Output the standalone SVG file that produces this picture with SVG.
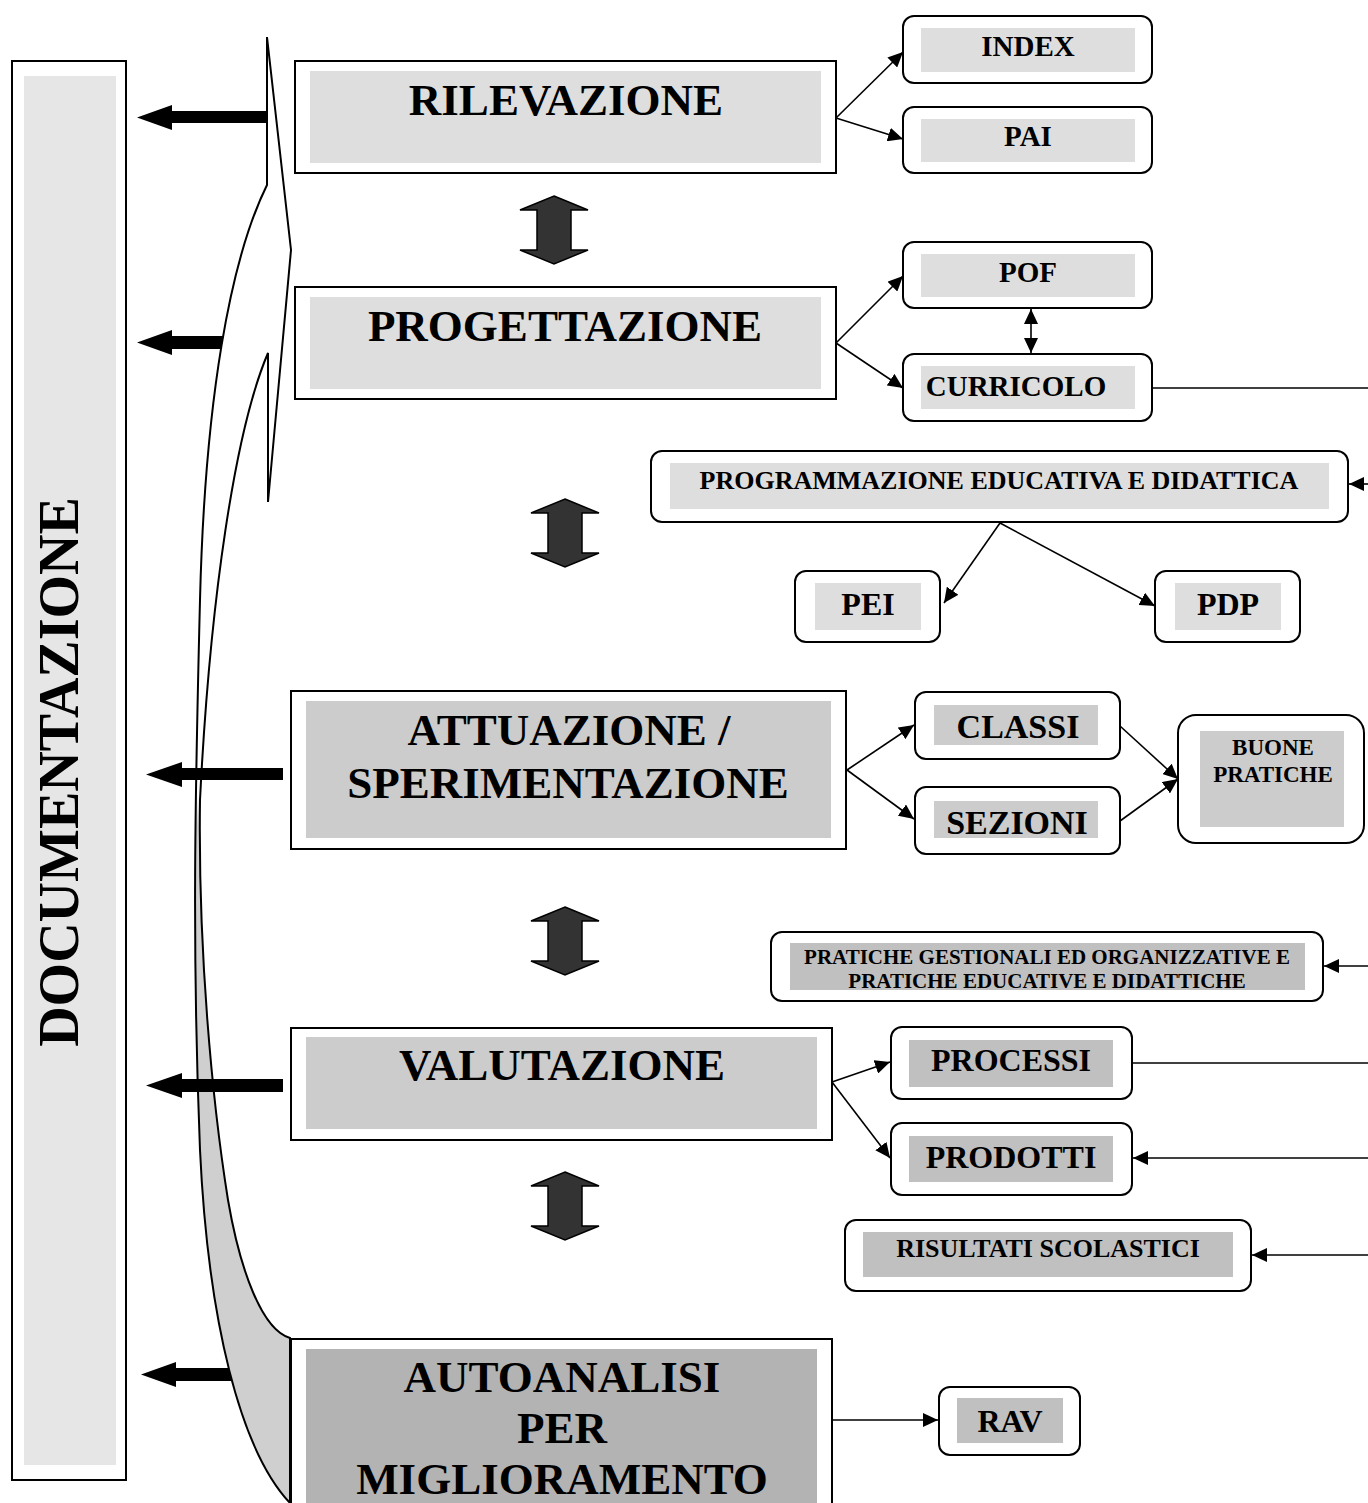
<svg xmlns="http://www.w3.org/2000/svg" width="1368" height="1503" viewBox="0 0 1368 1503">
<style>
text{font-family:"Liberation Serif","Times New Roman",serif;font-weight:bold;fill:#000;text-anchor:middle}
.frame{fill:#fff;stroke:#000;stroke-width:2}
.rb{fill:#fff;stroke:#000;stroke-width:2}
.g1{fill:#dedede}.g2{fill:#cccccc}.g3{fill:#b3b3b3}.g4{fill:#c0c0c0}
.big{font-size:45px}.mid{font-size:32px}.sm{font-size:29px}
.conn line,.conn path{stroke:#000;stroke-width:1.6;fill:none}
.bar{fill:#000}
.dbl{fill:#333;stroke:#000;stroke-width:1.5}
</style>
<defs>
<marker id="ah" markerUnits="userSpaceOnUse" markerWidth="15" markerHeight="14" refX="15" refY="7" orient="auto-start-reverse" viewBox="0 0 15 14">
<path d="M0,0 L15,7 L0,14 z" fill="#000"/>
</marker>
<linearGradient id="bandfill" gradientUnits="userSpaceOnUse" x1="0" y1="795" x2="0" y2="825">
<stop offset="0" stop-color="#fff"/>
<stop offset="1" stop-color="#cfcfcf"/>
</linearGradient>
</defs>

<g id="documentazione">
<rect x="12" y="61" width="114" height="1419" class="frame"/>
<rect x="24" y="76" width="92" height="1389" fill="#e6e6e6"/>
<text transform="translate(78,772) rotate(-90)" font-size="56">DOCUMENTAZIONE</text>
</g>

<g id="left-arrows-back">
<polygon class="bar" points="267,111 172,111 172,105 137,117.5 172,130 172,123 267,123"/>
<polygon class="bar" points="240,336 172,336 172,330 137,342.5 172,355 172,349 240,349"/>
<polygon class="bar" points="240,1368 176,1368 176,1362 141,1374.5 176,1387 176,1381 240,1381"/>
</g>

<g id="brace">
<path d="M267,185 L267,37 L291,250 L268,502 L268,353 C235,430 210,600 200,800 C198,950 212,1100 228,1200 C240,1270 262,1330 290,1338 L290,1503 C240,1450 208,1320 200,1150 C192,950 195,800 200,600 C205,400 230,260 267,185 Z" fill="url(#bandfill)" stroke="#000" stroke-width="2" stroke-linejoin="miter"/>
</g>

<g id="left-arrows-front">
<polygon class="bar" points="283,768 182,768 182,762 146,774.5 182,787 182,780 283,780"/>
<polygon class="bar" points="283,1079 182,1079 182,1073 146,1085.5 182,1098 182,1092 283,1092"/>
</g>

<g id="double-arrows">
<polygon class="dbl" points="554,196 588,210 571,210 571,250 588,250 554,264 520,250 537,250 537,210 520,210"/>
<polygon class="dbl" points="565,499 599,513 582,513 582,553 599,553 565,567 531,553 548,553 548,513 531,513"/>
<polygon class="dbl" points="565,907 599,921 582,921 582,961 599,961 565,975 531,961 548,961 548,921 531,921"/>
<polygon class="dbl" points="565,1172 599,1186 582,1186 582,1226 599,1226 565,1240 531,1226 548,1226 548,1186 531,1186"/>
</g>

<g id="rilevazione">
<rect x="295" y="61" width="541" height="112" class="frame"/>
<rect x="310" y="71" width="511" height="92" class="g1"/>
<text x="566" y="115" class="big">RILEVAZIONE</text>
</g>
<g id="progettazione">
<rect x="295" y="287" width="541" height="112" class="frame"/>
<rect x="310" y="297" width="511" height="92" class="g1"/>
<text x="565" y="341" class="big">PROGETTAZIONE</text>
</g>
<g id="attuazione">
<rect x="291" y="691" width="555" height="158" class="frame"/>
<rect x="306" y="701" width="525" height="137" class="g2"/>
<text x="569" y="745" class="big">ATTUAZIONE /</text>
<text x="568" y="798" class="big">SPERIMENTAZIONE</text>
</g>
<g id="valutazione">
<rect x="291" y="1028" width="541" height="112" class="frame"/>
<rect x="306" y="1037" width="511" height="92" class="g2"/>
<text x="562" y="1080" class="big">VALUTAZIONE</text>
</g>
<g id="autoanalisi">
<rect x="291" y="1339" width="541" height="180" class="frame"/>
<rect x="306" y="1349" width="511" height="170" class="g3"/>
<text x="562" y="1392" class="big">AUTOANALISI</text>
<text x="562" y="1443" class="big">PER</text>
<text x="562" y="1494" class="big">MIGLIORAMENTO</text>
</g>

<g id="index">
<rect x="903" y="16" width="249" height="67" rx="11" class="rb"/>
<rect x="921" y="28" width="214" height="44" class="g1"/>
<text x="1028" y="56" class="sm">INDEX</text>
</g>
<g id="pai">
<rect x="903" y="107" width="249" height="66" rx="11" class="rb"/>
<rect x="921" y="119" width="214" height="43" class="g1"/>
<text x="1028" y="146" class="sm">PAI</text>
</g>
<g id="pof">
<rect x="903" y="242" width="249" height="66" rx="11" class="rb"/>
<rect x="921" y="254" width="214" height="43" class="g1"/>
<text x="1028" y="282" class="sm">POF</text>
</g>
<g id="curricolo">
<rect x="903" y="354" width="249" height="67" rx="11" class="rb"/>
<rect x="921" y="366" width="214" height="43" class="g1"/>
<text x="1016" y="396" class="sm">CURRICOLO</text>
</g>
<g id="programmazione">
<rect x="651" y="451" width="697" height="71" rx="11" class="rb"/>
<rect x="670" y="463" width="659" height="46" class="g1"/>
<text x="999" y="489" font-size="26">PROGRAMMAZIONE EDUCATIVA E DIDATTICA</text>
</g>
<g id="pei">
<rect x="795" y="571" width="145" height="71" rx="11" class="rb"/>
<rect x="815" y="583" width="106" height="47" class="g1"/>
<text x="868" y="615" class="mid">PEI</text>
</g>
<g id="pdp">
<rect x="1155" y="571" width="145" height="71" rx="11" class="rb"/>
<rect x="1175" y="583" width="106" height="47" class="g1"/>
<text x="1228" y="615" class="mid">PDP</text>
</g>
<g id="classi">
<rect x="915" y="692" width="205" height="67" rx="11" class="rb"/>
<rect x="934" y="705" width="164" height="40" class="g2"/>
<text x="1018" y="738" font-size="34">CLASSI</text>
</g>
<g id="sezioni">
<rect x="915" y="787" width="205" height="67" rx="11" class="rb"/>
<rect x="934" y="801" width="164" height="37" class="g2"/>
<text x="1017" y="834" font-size="34">SEZIONI</text>
</g>
<g id="buone-pratiche">
<rect x="1178" y="715" width="186" height="128" rx="18" class="rb"/>
<rect x="1200" y="731" width="144" height="96" class="g2"/>
<text x="1273" y="755" font-size="23">BUONE</text>
<text x="1273" y="782" font-size="23">PRATICHE</text>
</g>
<g id="pratiche">
<rect x="771" y="932" width="552" height="69" rx="11" class="rb"/>
<rect x="790" y="943" width="515" height="47" class="g4"/>
<text x="1047" y="964" font-size="21">PRATICHE GESTIONALI ED ORGANIZZATIVE E</text>
<text x="1047" y="988" font-size="21">PRATICHE EDUCATIVE E DIDATTICHE</text>
</g>
<g id="processi">
<rect x="891" y="1027" width="241" height="72" rx="11" class="rb"/>
<rect x="909" y="1040" width="204" height="47" class="g4"/>
<text x="1011" y="1071" class="mid">PROCESSI</text>
</g>
<g id="prodotti">
<rect x="891" y="1123" width="241" height="72" rx="11" class="rb"/>
<rect x="909" y="1136" width="204" height="46" class="g4"/>
<text x="1011" y="1168" class="mid">PRODOTTI</text>
</g>
<g id="risultati">
<rect x="845" y="1220" width="406" height="71" rx="11" class="rb"/>
<rect x="863" y="1232" width="370" height="45" class="g4"/>
<text x="1048" y="1257" font-size="26">RISULTATI SCOLASTICI</text>
</g>
<g id="rav">
<rect x="939" y="1387" width="141" height="68" rx="11" class="rb"/>
<rect x="957" y="1398" width="106" height="45" class="g4"/>
<text x="1010" y="1432" class="mid">RAV</text>
</g>

<g id="connectors" class="conn">
<line x1="836" y1="118" x2="903" y2="52" marker-end="url(#ah)"/>
<line x1="836" y1="118" x2="903" y2="139" marker-end="url(#ah)"/>
<line x1="836" y1="343" x2="903" y2="276" marker-end="url(#ah)"/>
<line x1="836" y1="343" x2="903" y2="388" marker-end="url(#ah)"/>
<line x1="1031" y1="309" x2="1031" y2="353" marker-start="url(#ah)" marker-end="url(#ah)"/>
<line x1="1152" y1="388" x2="1368" y2="388"/>
<line x1="1368" y1="484" x2="1349" y2="484" marker-end="url(#ah)"/>
<line x1="1000" y1="523" x2="944" y2="603" marker-end="url(#ah)"/>
<line x1="1000" y1="523" x2="1155" y2="606" marker-end="url(#ah)"/>
<line x1="847" y1="770" x2="914" y2="725" marker-end="url(#ah)"/>
<line x1="847" y1="770" x2="914" y2="819" marker-end="url(#ah)"/>
<line x1="1120" y1="726" x2="1178" y2="779" marker-end="url(#ah)"/>
<line x1="1120" y1="821" x2="1178" y2="779" marker-end="url(#ah)"/>
<line x1="1368" y1="966" x2="1324" y2="966" marker-end="url(#ah)"/>
<line x1="832" y1="1082" x2="890" y2="1062" marker-end="url(#ah)"/>
<line x1="832" y1="1082" x2="890" y2="1158" marker-end="url(#ah)"/>
<line x1="1132" y1="1063" x2="1368" y2="1063"/>
<line x1="1368" y1="1158" x2="1133" y2="1158" marker-end="url(#ah)"/>
<line x1="1368" y1="1255" x2="1252" y2="1255" marker-end="url(#ah)"/>
<line x1="832" y1="1420" x2="938" y2="1420" marker-end="url(#ah)"/>
</g>
</svg>
